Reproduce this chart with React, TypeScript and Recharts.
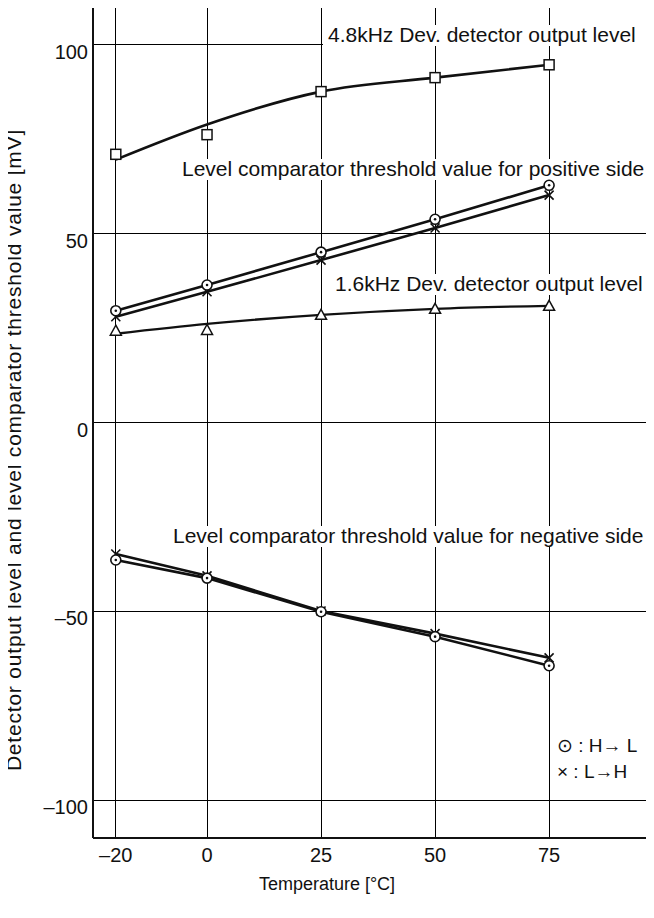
import React from 'react';
import { LineChart, Line, XAxis, YAxis, CartesianGrid, ReferenceLine, Customized } from 'recharts';

// ---- data ----
const temperatures = [-20, 0, 25, 50, 75];
const xTicks = [-20, 0, 25, 50, 75];
const yTicks = [-100, -50, 0, 50, 100];

// 4.8kHz Dev. detector output level: measured points and fitted curve
const dev48Measured = [71, 76.2, 87.6, 91.3, 94.7];
const dev48Curve = [69.6, 78.9, 87.6, 91.3, 94.7];
// 1.6kHz Dev. detector output level
const dev16Measured = [24.3, 24.5, 28.5, 30.1, 30.9];
const dev16Curve = [23.5, 26.1, 28.5, 30.1, 30.9];
// Level comparator threshold, positive side
const posHL = [29.6, 36.4, 45.1, 53.8, 62.8];
const posLH = [28.0, 34.6, 43.0, 51.5, 60.2];
// Level comparator threshold, negative side
const negHL = [-36.4, -41.2, -50.1, -56.7, -64.4];
const negLH = [-34.8, -40.6, -49.9, -55.9, -62.3];

const data = temperatures.map((t, i) => ({
  t,
  dev48M: dev48Measured[i],
  dev48C: dev48Curve[i],
  dev16M: dev16Measured[i],
  dev16C: dev16Curve[i],
  posHL: posHL[i],
  posLH: posLH[i],
  negHL: negHL[i],
  negLH: negLH[i],
}));

const FONT = '"Liberation Sans", Arial, Helvetica, sans-serif';
const INK = '#111';

const fmt = (v: number) => (v < 0 ? '\u2013' + Math.abs(v) : String(v));

const SquareDot = (p: any) => {
  const { cx, cy, key } = p;
  if (cx == null || cy == null) return <g key={key} />;
  return <rect key={key} x={cx - 5} y={cy - 5} width={10} height={10} fill="#fff" stroke={INK} strokeWidth={1.5} />;
};
const TriangleDot = (p: any) => {
  const { cx, cy, key } = p;
  if (cx == null || cy == null) return <g key={key} />;
  return (
    <path key={key} d={`M${cx},${cy - 5.5} L${cx + 5.5},${cy + 4.5} L${cx - 5.5},${cy + 4.5} Z`} fill="#fff" stroke={INK} strokeWidth={1.5} />
  );
};
const CircleDot = (p: any) => {
  const { cx, cy, key } = p;
  if (cx == null || cy == null) return <g key={key} />;
  return (
    <g key={key}>
      <circle cx={cx} cy={cy} r={5} fill="#fff" stroke={INK} strokeWidth={1.6} />
      <circle cx={cx} cy={cy} r={1.3} fill={INK} />
    </g>
  );
};
const CrossDot = (p: any) => {
  const { cx, cy, key } = p;
  if (cx == null || cy == null) return <g key={key} />;
  return (
    <path key={key} d={`M${cx - 4.5},${cy - 4.5} L${cx + 4.5},${cy + 4.5} M${cx + 4.5},${cy - 4.5} L${cx - 4.5},${cy + 4.5}`} stroke={INK} strokeWidth={1.6} />
  );
};

const YTick = (p: any) => {
  const { x, y, payload } = p;
  return (
    <text x={x} y={y + 7} textAnchor="end" dominantBaseline="central" fontSize={20} fontFamily={FONT} fill={INK}>
      {fmt(payload.value)}
    </text>
  );
};
const XTick = (p: any) => {
  const { x, y, payload } = p;
  return (
    <text x={x} y={y} dy="0.72em" textAnchor="middle" fontSize={20} fontFamily={FONT} fill={INK}>
      {fmt(payload.value)}
    </text>
  );
};

let measureCtx: CanvasRenderingContext2D | null = null;
const measure = (txt: string, size: number) => {
  if (!measureCtx) {
    const c = document.createElement('canvas');
    measureCtx = c.getContext('2d');
  }
  if (!measureCtx) return txt.length * size * 0.5;
  measureCtx.font = `${size}px "Liberation Sans", Arial, sans-serif`;
  return measureCtx.measureText(txt).width;
};

const annotations = [
  { text: '4.8kHz Dev. detector output level', x: 328, y: 42, right: true },
  { text: 'Level comparator threshold value for positive side', x: 182, y: 176, right: false },
  { text: '1.6kHz Dev. detector output level', x: 335, y: 291, right: false },
  { text: 'Level comparator threshold value for negative side', x: 173, y: 543, right: false },
];

const Annotations = () => {
  const size = 21;
  return (
    <g>
      {annotations.map((a, i) => {
        const w = measure(a.text, size);
        return (
          <g key={i}>
            <rect x={a.x - 5} y={a.y - 17} width={a.right ? 654 - a.x + 5 : w + 8} height={21} fill="#fff" />
            <text x={a.x} y={a.y} fontSize={size} fontFamily={FONT} fill={INK}>
              {a.text}
            </text>
          </g>
        );
      })}
      <text x={557} y={752} fontSize={19} fontFamily={FONT} fill={INK}>{'\u2299 : H\u2192 L'}</text>
      <text x={557} y={778} fontSize={19} fontFamily={FONT} fill={INK}>{'\u00d7 : L\u2192H'}</text>
      <text
        x={21}
        y={450}
        transform="rotate(-90, 21, 450)"
        textAnchor="middle"
        fontSize={21}
        letterSpacing={0.8}
        fontFamily={FONT}
        fill={INK}
      >
        Detector output level and level comparator threshold value [mV]
      </text>
      <text x={327} y={884} textAnchor="middle" dominantBaseline="central" fontSize={18} fontFamily={FONT} fill={INK}>
        Temperature [°C]
      </text>
    </g>
  );
};

export default function App() {
  return (
    <div style={{ margin: '-8px 0 0 -8px', width: 654, height: 918, background: '#fff' }}>
      <LineChart width={654} height={918} data={data} margin={{ top: 7, right: 0, bottom: 0, left: 0 }}>
        <CartesianGrid stroke="#000" strokeWidth={1} shapeRendering="crispEdges" horizontalValues={yTicks} verticalValues={xTicks} />
        <XAxis
          dataKey="t"
          type="number"
          domain={[-25, 98]}
          ticks={xTicks}
          height={80}
          tickSize={0}
          tickMargin={10}
          tick={<XTick />}
          axisLine={{ stroke: INK, strokeWidth: 2 }}
          tickLine={false}
          allowDataOverflow
        />
        <YAxis
          type="number"
          domain={[-110, 110]}
          ticks={yTicks}
          width={93}
          tickSize={0}
          tickMargin={5}
          tick={<YTick />}
          axisLine={{ stroke: INK, strokeWidth: 2 }}
          tickLine={false}
          allowDataOverflow
        />
        <ReferenceLine y={110} stroke={INK} strokeWidth={2} />
        <Line dataKey="dev48C" type="monotone" stroke={INK} strokeWidth={2.6} dot={false} isAnimationActive={false} />
        <Line dataKey="dev16C" type="monotone" stroke={INK} strokeWidth={2.3} dot={false} isAnimationActive={false} />
        <Line dataKey="posLH" type="linear" stroke={INK} strokeWidth={2.6} dot={CrossDot} isAnimationActive={false} />
        <Line dataKey="posHL" type="linear" stroke={INK} strokeWidth={2.6} dot={CircleDot} isAnimationActive={false} />
        <Line dataKey="negLH" type="linear" stroke={INK} strokeWidth={2.6} dot={CrossDot} isAnimationActive={false} />
        <Line dataKey="negHL" type="linear" stroke={INK} strokeWidth={2.6} dot={CircleDot} isAnimationActive={false} />
        <Line dataKey="dev48M" stroke="none" dot={SquareDot} isAnimationActive={false} />
        <Line dataKey="dev16M" stroke="none" dot={TriangleDot} isAnimationActive={false} />
        <Customized component={<Annotations />} />
      </LineChart>
    </div>
  );
}
